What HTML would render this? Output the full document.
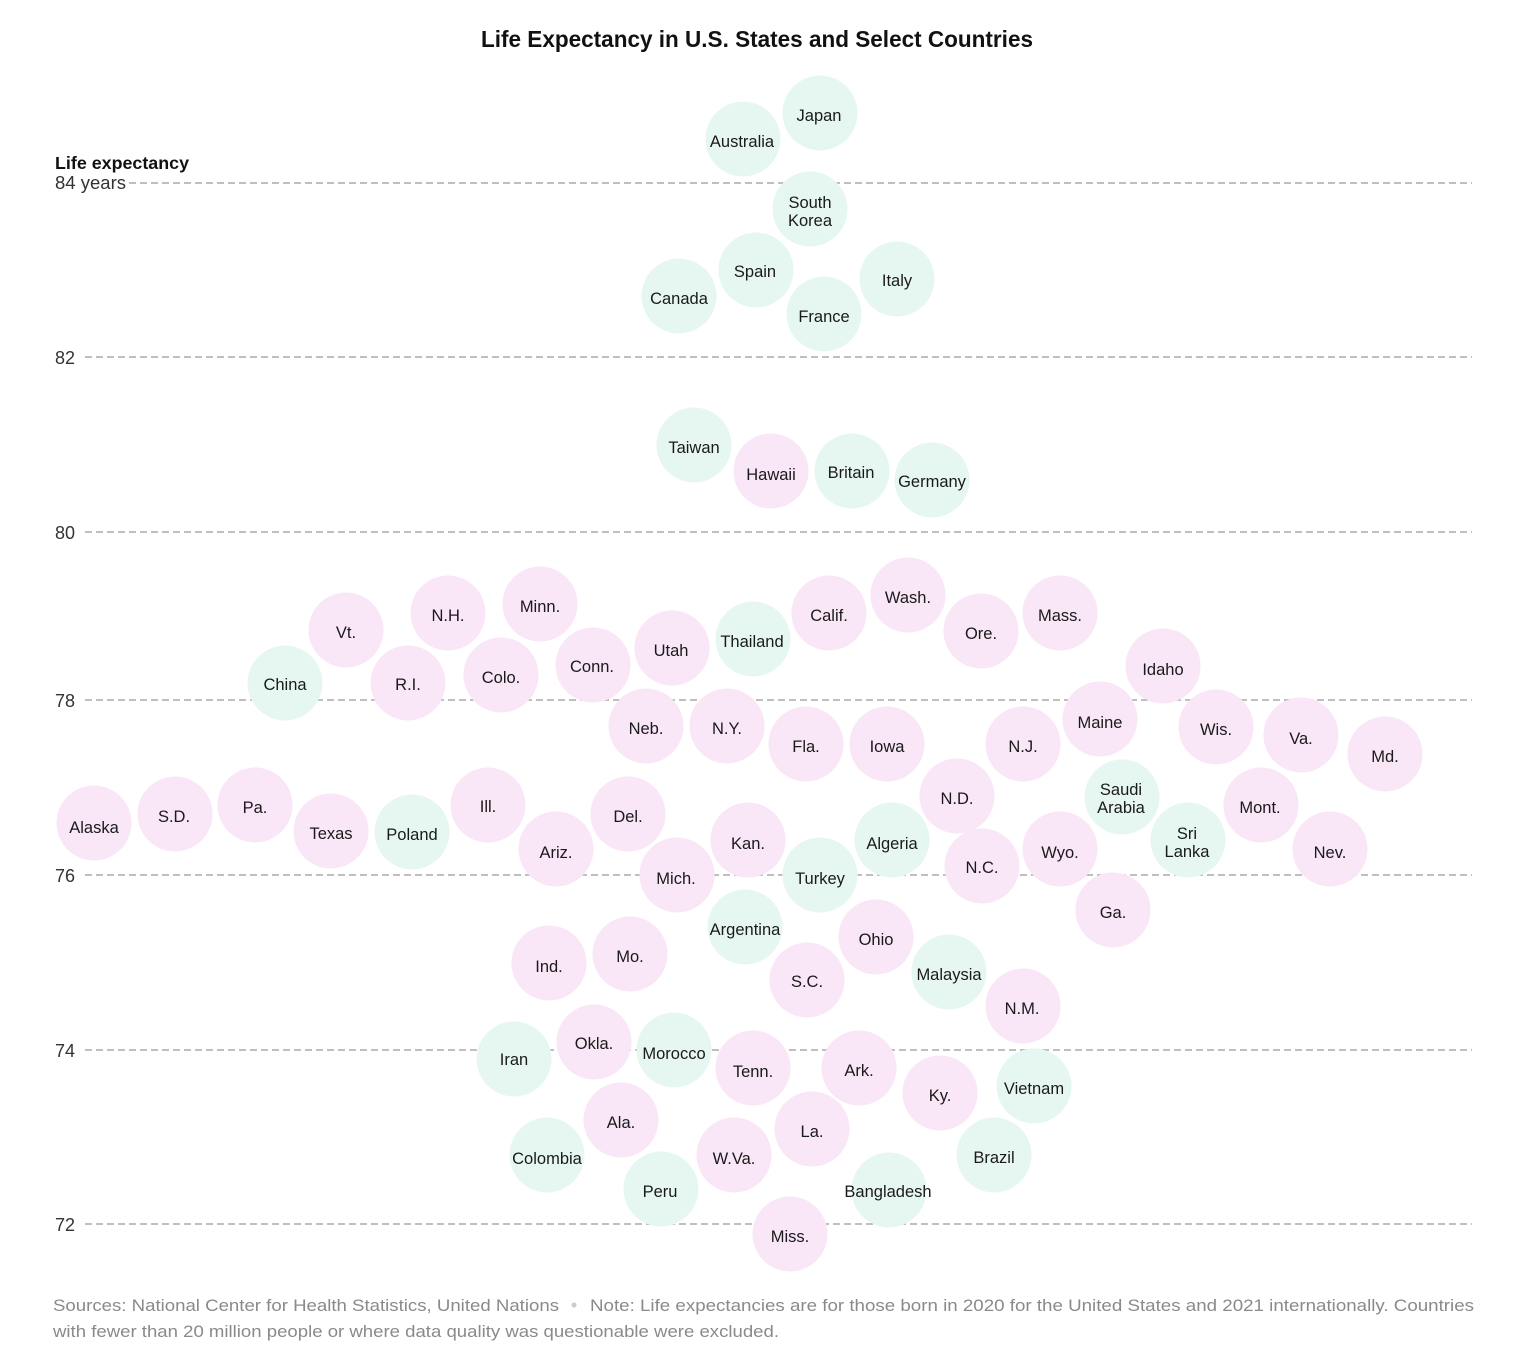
<!DOCTYPE html>
<html><head><meta charset="utf-8"><style>
html,body{margin:0;padding:0;background:#fff;}
svg{display:block;}
.g{fill:#e6f7f1}.p{fill:#f9e6f6}
.l{font-family:"Liberation Sans",sans-serif;font-size:16.5px;fill:#1a1a1a;text-anchor:middle;}
.ax{font-family:"Liberation Sans",sans-serif;font-size:18px;fill:#333;}
.gl{stroke:#aaa;stroke-width:1.5;stroke-dasharray:7 4;}
.ft{font-family:"Liberation Sans",sans-serif;font-size:17px;fill:#8a8a8a;}
</style></head><body>
<svg width="1524" height="1362" viewBox="0 0 1524 1362" xmlns="http://www.w3.org/2000/svg">
<text x="757" y="47" text-anchor="middle" textLength="552" lengthAdjust="spacingAndGlyphs" style="font-family:'Liberation Sans',sans-serif;font-size:23px;font-weight:bold;fill:#111">Life Expectancy in U.S. States and Select Countries</text>
<text x="55" y="169" textLength="134" lengthAdjust="spacingAndGlyphs" style="font-family:'Liberation Sans',sans-serif;font-size:17.5px;font-weight:bold;fill:#111">Life expectancy</text>
<text x="55" y="189" class="ax" textLength="71" lengthAdjust="spacingAndGlyphs">84 years</text>
<line class="gl" x1="129" y1="183" x2="1472" y2="183"/>
<line class="gl" x1="85" y1="357" x2="1472" y2="357"/>
<line class="gl" x1="85" y1="532" x2="1472" y2="532"/>
<line class="gl" x1="85" y1="700" x2="1472" y2="700"/>
<line class="gl" x1="85" y1="875" x2="1472" y2="875"/>
<line class="gl" x1="85" y1="1050" x2="1472" y2="1050"/>
<line class="gl" x1="85" y1="1224" x2="1472" y2="1224"/>
<text x="55" y="364" class="ax">82</text>
<text x="55" y="539" class="ax">80</text>
<text x="55" y="707" class="ax">78</text>
<text x="55" y="882" class="ax">76</text>
<text x="55" y="1057" class="ax">74</text>
<text x="55" y="1231" class="ax">72</text>
<g>
<circle class="g" cx="820" cy="113" r="37.5"/><circle class="g" cx="743" cy="139" r="37.5"/><circle class="g" cx="810" cy="209" r="37.5"/><circle class="g" cx="756" cy="270" r="37.5"/><circle class="g" cx="897" cy="279" r="37.5"/><circle class="g" cx="679" cy="296" r="37.5"/><circle class="g" cx="824" cy="314" r="37.5"/><circle class="g" cx="694" cy="445" r="37.5"/><circle class="g" cx="852" cy="471" r="37.5"/><circle class="g" cx="932" cy="480" r="37.5"/><circle class="g" cx="753" cy="639" r="37.5"/><circle class="g" cx="285" cy="683" r="37.5"/><circle class="g" cx="412" cy="832" r="37.5"/><circle class="g" cx="892" cy="840" r="37.5"/><circle class="g" cx="820" cy="875" r="37.5"/><circle class="g" cx="1122" cy="797" r="37.5"/><circle class="g" cx="1188" cy="840" r="37.5"/><circle class="g" cx="745" cy="927" r="37.5"/><circle class="g" cx="949" cy="972" r="37.5"/><circle class="g" cx="514" cy="1059" r="37.5"/><circle class="g" cx="674" cy="1050" r="37.5"/><circle class="g" cx="1034" cy="1086" r="37.5"/><circle class="g" cx="994" cy="1155" r="37.5"/><circle class="g" cx="547" cy="1155" r="37.5"/><circle class="g" cx="661" cy="1189" r="37.5"/><circle class="g" cx="889" cy="1190" r="37.5"/>
<circle class="p" cx="771" cy="471" r="37.5"/><circle class="p" cx="346" cy="630" r="37.5"/><circle class="p" cx="448" cy="613" r="37.5"/><circle class="p" cx="540" cy="604" r="37.5"/><circle class="p" cx="408" cy="683" r="37.5"/><circle class="p" cx="501" cy="675" r="37.5"/><circle class="p" cx="593" cy="665" r="37.5"/><circle class="p" cx="672" cy="648" r="37.5"/><circle class="p" cx="829" cy="613" r="37.5"/><circle class="p" cx="908" cy="595" r="37.5"/><circle class="p" cx="981" cy="631" r="37.5"/><circle class="p" cx="1060" cy="613" r="37.5"/><circle class="p" cx="1163" cy="666" r="37.5"/><circle class="p" cx="646" cy="726" r="37.5"/><circle class="p" cx="727" cy="726" r="37.5"/><circle class="p" cx="806" cy="744" r="37.5"/><circle class="p" cx="887" cy="744" r="37.5"/><circle class="p" cx="1023" cy="744" r="37.5"/><circle class="p" cx="1100" cy="719" r="37.5"/><circle class="p" cx="1216" cy="727" r="37.5"/><circle class="p" cx="1301" cy="735" r="37.5"/><circle class="p" cx="1385" cy="754" r="37.5"/><circle class="p" cx="957" cy="796" r="37.5"/><circle class="p" cx="1261" cy="805" r="37.5"/><circle class="p" cx="1330" cy="849" r="37.5"/><circle class="p" cx="94" cy="823" r="37.5"/><circle class="p" cx="175" cy="814" r="37.5"/><circle class="p" cx="255" cy="805" r="37.5"/><circle class="p" cx="331" cy="831" r="37.5"/><circle class="p" cx="488" cy="805" r="37.5"/><circle class="p" cx="556" cy="849" r="37.5"/><circle class="p" cx="628" cy="814" r="37.5"/><circle class="p" cx="748" cy="840" r="37.5"/><circle class="p" cx="677" cy="875" r="37.5"/><circle class="p" cx="982" cy="866" r="37.5"/><circle class="p" cx="1060" cy="849" r="37.5"/><circle class="p" cx="1113" cy="910" r="37.5"/><circle class="p" cx="876" cy="937" r="37.5"/><circle class="p" cx="549" cy="963" r="37.5"/><circle class="p" cx="630" cy="954" r="37.5"/><circle class="p" cx="807" cy="980" r="37.5"/><circle class="p" cx="1023" cy="1006" r="37.5"/><circle class="p" cx="594" cy="1042" r="37.5"/><circle class="p" cx="753" cy="1068" r="37.5"/><circle class="p" cx="859" cy="1068" r="37.5"/><circle class="p" cx="940" cy="1093" r="37.5"/><circle class="p" cx="621" cy="1120" r="37.5"/><circle class="p" cx="812" cy="1129" r="37.5"/><circle class="p" cx="734" cy="1155" r="37.5"/><circle class="p" cx="790" cy="1234" r="37.5"/>
</g>
<g class="l">
<text x="819" y="121">Japan</text><text x="742" y="147">Australia</text><text x="810" y="208">South</text><text x="810" y="226">Korea</text><text x="755" y="277">Spain</text><text x="897" y="286">Italy</text><text x="679" y="304">Canada</text><text x="824" y="322">France</text><text x="694" y="453">Taiwan</text><text x="851" y="478">Britain</text><text x="932" y="487">Germany</text><text x="752" y="647">Thailand</text><text x="285" y="690">China</text><text x="412" y="840">Poland</text><text x="892" y="849">Algeria</text><text x="820" y="884">Turkey</text><text x="1121" y="795">Saudi</text><text x="1121" y="813">Arabia</text><text x="1187" y="839">Sri</text><text x="1187" y="857">Lanka</text><text x="745" y="935">Argentina</text><text x="949" y="980">Malaysia</text><text x="514" y="1065">Iran</text><text x="674" y="1059">Morocco</text><text x="1034" y="1094">Vietnam</text><text x="994" y="1163">Brazil</text><text x="547" y="1164">Colombia</text><text x="660" y="1197">Peru</text><text x="888" y="1197">Bangladesh</text>
<text x="771" y="480">Hawaii</text><text x="346" y="638">Vt.</text><text x="448" y="621">N.H.</text><text x="540" y="612">Minn.</text><text x="408" y="690">R.I.</text><text x="501" y="683">Colo.</text><text x="592" y="672">Conn.</text><text x="671" y="656">Utah</text><text x="829" y="621">Calif.</text><text x="908" y="603">Wash.</text><text x="981" y="639">Ore.</text><text x="1060" y="621">Mass.</text><text x="1163" y="675">Idaho</text><text x="646" y="734">Neb.</text><text x="727" y="734">N.Y.</text><text x="806" y="752">Fla.</text><text x="887" y="752">Iowa</text><text x="1023" y="752">N.J.</text><text x="1100" y="728">Maine</text><text x="1216" y="735">Wis.</text><text x="1301" y="744">Va.</text><text x="1385" y="762">Md.</text><text x="957" y="804">N.D.</text><text x="1260" y="813">Mont.</text><text x="1330" y="858">Nev.</text><text x="94" y="833">Alaska</text><text x="174" y="822">S.D.</text><text x="255" y="813">Pa.</text><text x="331" y="839">Texas</text><text x="488" y="812">Ill.</text><text x="556" y="858">Ariz.</text><text x="628" y="822">Del.</text><text x="748" y="849">Kan.</text><text x="676" y="884">Mich.</text><text x="982" y="873">N.C.</text><text x="1060" y="858">Wyo.</text><text x="1113" y="918">Ga.</text><text x="876" y="945">Ohio</text><text x="549" y="972">Ind.</text><text x="630" y="962">Mo.</text><text x="807" y="987">S.C.</text><text x="1022" y="1014">N.M.</text><text x="594" y="1049">Okla.</text><text x="753" y="1077">Tenn.</text><text x="859" y="1076">Ark.</text><text x="940" y="1101">Ky.</text><text x="621" y="1128">Ala.</text><text x="812" y="1137">La.</text><text x="734" y="1164">W.Va.</text><text x="790" y="1242">Miss.</text>
</g>
<text x="53" y="1311" class="ft" textLength="506" lengthAdjust="spacingAndGlyphs">Sources: National Center for Health Statistics, United Nations</text>
<circle cx="574" cy="1305" r="2.5" fill="#ccc"/>
<text x="590" y="1311" class="ft" textLength="884" lengthAdjust="spacingAndGlyphs">Note: Life expectancies are for those born in 2020 for the United States and 2021 internationally. Countries</text>
<text x="53" y="1337" class="ft" textLength="726" lengthAdjust="spacingAndGlyphs">with fewer than 20 million people or where data quality was questionable were excluded.</text>
</svg>
</body></html>
